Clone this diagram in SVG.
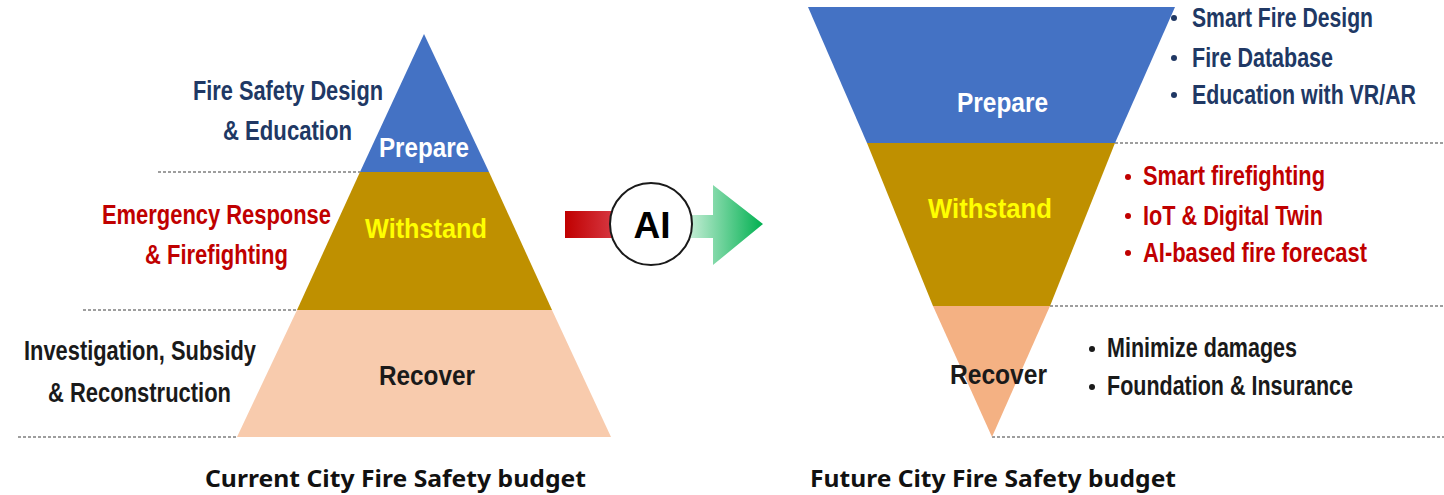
<svg xmlns="http://www.w3.org/2000/svg" width="1444" height="495" viewBox="0 0 1444 495">
<defs>
<style>
.t{font-family:"Liberation Sans",Arial,sans-serif;font-weight:bold;font-size:27.5px}
.cap{font-family:"Noto Sans","Open Sans",sans-serif;font-weight:bold;font-size:24px;fill:#111}
.navy{fill:#203864}
.red{fill:#C00000}
.blk{fill:#1a1a1a}
.wht{fill:#ffffff}
.yel{fill:#FFFF00}
.dash{stroke:#7f7f7f;stroke-width:1.5;stroke-dasharray:3 2;fill:none}
.blue{fill:#4472C4}
.gold{fill:#BF9000}
</style>
<linearGradient id="gRed" x1="0" y1="0" x2="1" y2="0">
<stop offset="0" stop-color="#C00000"/>
<stop offset="1" stop-color="#E0505F"/>
</linearGradient>
<linearGradient id="gGreen" x1="680" y1="0" x2="763" y2="0" gradientUnits="userSpaceOnUse">
<stop offset="0" stop-color="#DDF5E6"/>
<stop offset="1" stop-color="#00B050"/>
</linearGradient>
</defs>
<rect width="1444" height="495" fill="#ffffff"/>

<g id="guides">
<line class="dash" x1="158" y1="172" x2="360" y2="172"/>
<line class="dash" x1="83" y1="310" x2="297" y2="310"/>
<line class="dash" x1="18" y1="437" x2="237" y2="437"/>
<line class="dash" x1="1115" y1="143" x2="1444" y2="143"/>
<line class="dash" x1="1050" y1="306" x2="1444" y2="306"/>
<line class="dash" x1="992" y1="437" x2="1444" y2="437"/>
</g>

<g id="current-prepare">
<polygon class="blue" points="424,34 360,172 489,172"/>
<text class="t wht" transform="translate(379,157) scale(0.8,1)" textLength="112.5" lengthAdjust="spacingAndGlyphs">Prepare</text>
<text class="t navy" transform="translate(193,100) scale(0.8,1)" textLength="237.5" lengthAdjust="spacingAndGlyphs">Fire Safety Design</text>
<text class="t navy" transform="translate(223,140) scale(0.8,1)" textLength="161.25" lengthAdjust="spacingAndGlyphs">&amp; Education</text>
</g>

<g id="current-withstand">
<polygon class="gold" points="360,172 489,172 552,310 297,310"/>
<text class="t yel" transform="translate(365,238) scale(0.8,1)" textLength="152.5" lengthAdjust="spacingAndGlyphs">Withstand</text>
<text class="t red" transform="translate(102,224) scale(0.8,1)" textLength="286.25" lengthAdjust="spacingAndGlyphs">Emergency Response</text>
<text class="t red" transform="translate(145,264) scale(0.8,1)" textLength="178.75" lengthAdjust="spacingAndGlyphs">&amp; Firefighting</text>
</g>

<g id="current-recover">
<polygon fill="#F8CBAD" points="297,310 552,310 611,437 237,437"/>
<text class="t blk" transform="translate(379,385) scale(0.8,1)" textLength="120" lengthAdjust="spacingAndGlyphs">Recover</text>
<text class="t blk" transform="translate(24,360) scale(0.8,1)" textLength="290" lengthAdjust="spacingAndGlyphs">Investigation, Subsidy</text>
<text class="t blk" transform="translate(48,402) scale(0.8,1)" textLength="228.75" lengthAdjust="spacingAndGlyphs">&amp; Reconstruction</text>
</g>

<g id="connectors">
<rect x="565" y="211" width="70" height="27" fill="url(#gRed)"/>
<polygon fill="url(#gGreen)" points="670,215 713,215 713,185 763,224 713,265 713,238 670,238"/>
</g>

<g id="ai">
<circle cx="651" cy="224" r="41" fill="#ffffff" stroke="#1a1a1a" stroke-width="2"/>
<text x="652" y="238" text-anchor="middle" style="font-family:'Liberation Sans',Arial,sans-serif;font-weight:bold;font-size:37px;fill:#000">AI</text>
</g>

<g id="future-prepare">
<polygon class="blue" points="808,7 1175,7 1115,143 867,143"/>
<text class="t wht" transform="translate(957,112) scale(0.8,1)" textLength="113.75" lengthAdjust="spacingAndGlyphs">Prepare</text>
<circle cx="1174" cy="18" r="3" fill="#203864"/>
<text class="t navy" transform="translate(1192,27) scale(0.8,1)" textLength="226.25" lengthAdjust="spacingAndGlyphs">Smart Fire Design</text>
<circle cx="1174" cy="58" r="3" fill="#203864"/>
<text class="t navy" transform="translate(1192,67) scale(0.8,1)" textLength="176.25" lengthAdjust="spacingAndGlyphs">Fire Database</text>
<circle cx="1174" cy="95" r="3" fill="#203864"/>
<text class="t navy" transform="translate(1192,104) scale(0.8,1)" textLength="280" lengthAdjust="spacingAndGlyphs">Education with VR/AR</text>
</g>

<g id="future-withstand">
<polygon class="gold" points="867,143 1115,143 1050,306 933,306"/>
<text class="t yel" transform="translate(928,218) scale(0.8,1)" textLength="155" lengthAdjust="spacingAndGlyphs">Withstand</text>
<circle cx="1128" cy="177" r="3" fill="#C00000"/>
<text class="t red" transform="translate(1143,185) scale(0.8,1)" textLength="227.5" lengthAdjust="spacingAndGlyphs">Smart firefighting</text>
<circle cx="1128" cy="216" r="3" fill="#C00000"/>
<text class="t red" transform="translate(1143,225) scale(0.8,1)" textLength="225" lengthAdjust="spacingAndGlyphs">IoT &amp; Digital Twin</text>
<circle cx="1128" cy="253" r="3" fill="#C00000"/>
<text class="t red" transform="translate(1143,262) scale(0.8,1)" textLength="280" lengthAdjust="spacingAndGlyphs">AI-based fire forecast</text>
</g>

<g id="future-recover">
<polygon fill="#F4B183" points="933,306 1050,306 992,437"/>
<text class="t blk" transform="translate(950,384) scale(0.8,1)" textLength="121.25" lengthAdjust="spacingAndGlyphs">Recover</text>
<circle cx="1092" cy="349" r="3" fill="#1a1a1a"/>
<text class="t blk" transform="translate(1107,357) scale(0.8,1)" textLength="237.5" lengthAdjust="spacingAndGlyphs">Minimize damages</text>
<circle cx="1092" cy="387" r="3" fill="#1a1a1a"/>
<text class="t blk" transform="translate(1107,395) scale(0.8,1)" textLength="307.5" lengthAdjust="spacingAndGlyphs">Foundation &amp; Insurance</text>
</g>

<g id="captions">
<text class="cap" x="205" y="487" textLength="381" lengthAdjust="spacingAndGlyphs">Current City Fire Safety budget</text>
<text class="cap" x="810" y="487" textLength="366" lengthAdjust="spacingAndGlyphs">Future City Fire Safety budget</text>
</g>
</svg>
